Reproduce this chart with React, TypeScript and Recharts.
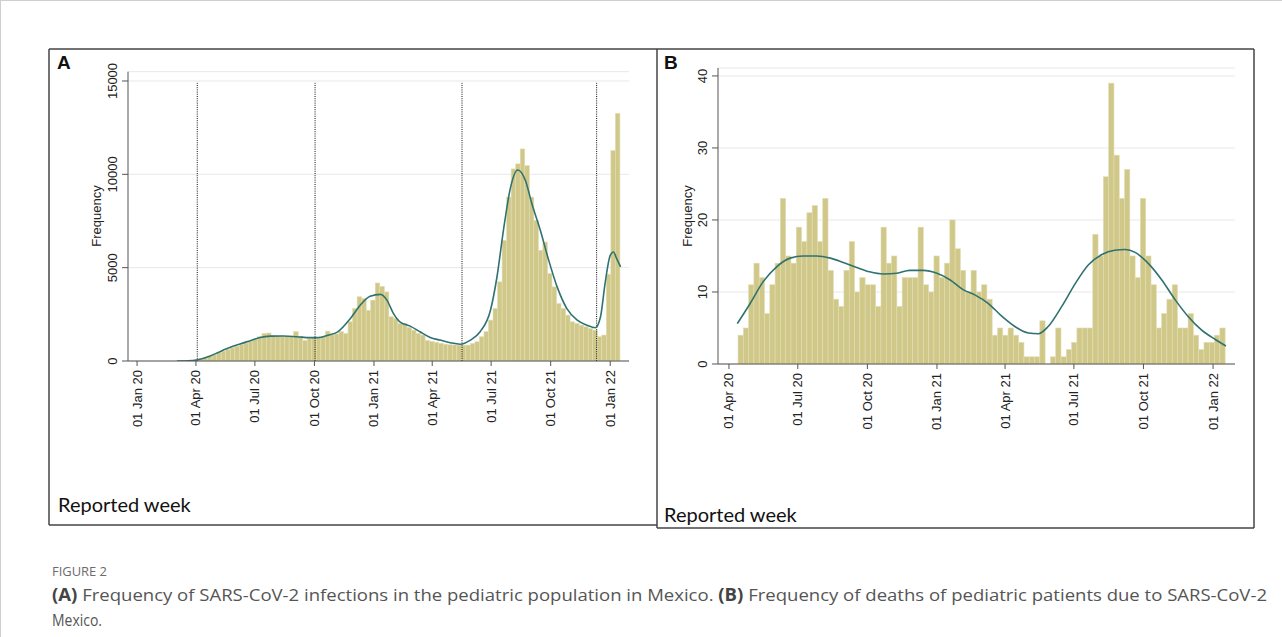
import React from 'react';
import { ComposedChart, Bar, Line, XAxis, YAxis, CartesianGrid, ReferenceLine } from 'recharts';

// days are counted from 01 Jan 2020
const weekStartA = 60;
const weekStartB = 103;

// Panel A: weekly SARS-CoV-2 infections, pediatric population
const casesA = [
  10, 20, 30, 50, 70, 120, 190, 260, 350, 440,
  530, 620, 720, 800, 880, 960, 1050, 1150, 1300, 1480,
  1500, 1350, 1320, 1300, 1300, 1320, 1570, 1300, 1100, 1200,
  1250, 1220, 1300, 1600, 1400, 1450, 1570, 1480, 2100, 2810,
  3440, 3350, 2720, 3260, 4180, 4000, 3700, 2370, 2280, 2000,
  2010, 1800, 1650, 1480, 1390, 1100, 1050, 1000, 950, 900,
  870, 860, 850, 850, 850, 940, 1030, 1300, 1570, 2190,
  2810, 4240, 6460, 8780, 10290, 10560, 11360, 10470, 8780, 7530,
  5930, 6370, 4680, 3970, 3080, 2810, 2460, 2100, 2010, 1920,
  1830, 1740, 1650, 1300, 1390, 4650, 11270, 13260,
];

// smoothed curve: [day, frequency]
const fitA: [number, number][] = [
  [62, 0], [80, 15], [94, 70], [113, 270], [128, 500], [144, 730], [159, 910],
  [175, 1090], [190, 1260], [206, 1330], [226, 1340], [247, 1300], [267, 1250],
  [280, 1250], [295, 1380], [310, 1560], [329, 2250], [345, 3000], [360, 3470],
  [376, 3570], [386, 3260], [396, 2550], [406, 2100], [422, 1870], [437, 1570],
  [453, 1260], [468, 1120], [484, 980], [499, 900], [515, 1120], [530, 1570],
  [546, 2720], [556, 4500], [566, 7000], [577, 9300], [588, 10230], [600, 9670],
  [610, 8420], [623, 7000], [636, 5390], [649, 3970], [664, 2810], [680, 2190],
  [695, 1920], [708, 1780], [716, 2370], [723, 4150], [731, 5660], [736, 5840],
  [741, 5480], [747, 5040],
];

// dotted period limits in panel A
const cutDaysA = [93, 275, 502, 710];

// Panel B: weekly deaths, pediatric patients
const deathsB = [
  4, 5, 11, 14, 12, 7, 11, 14, 23, 15,
  14, 19, 17, 21, 22, 17, 23, 13, 9, 8,
  13, 17, 10, 12, 11, 11, 8, 19, 14, 15,
  8, 12, 12, 12, 19, 11, 10, 15, 12, 14,
  20, 16, 13, 10, 13, 10, 11, 9, 4, 5,
  4, 5, 4, 3, 1, 1, 1, 6, 0, 1,
  5, 1, 2, 3, 5, 5, 5, 18, 15, 26,
  39, 29, 23, 27, 15, 12, 23, 15, 11, 5,
  7, 9, 11, 5, 5, 7, 4, 2, 3, 3,
  4, 5,
];

const fitB: [number, number][] = [
  [102, 5.6], [119, 8.4], [136, 11.4], [154, 13.5], [172, 14.7], [189, 15.0],
  [207, 15.0], [225, 14.7], [242, 14.1], [260, 13.4], [277, 12.8], [295, 12.5],
  [313, 12.6], [330, 13.0], [348, 13.0], [366, 12.6], [383, 11.7], [401, 10.3],
  [416, 9.6], [434, 8.4], [452, 6.6], [469, 5.2], [487, 4.3], [500, 4.2],
  [513, 5.2], [531, 8.0], [549, 11.2], [566, 13.75], [584, 15.2], [601, 15.8],
  [615, 15.9], [628, 15.5], [645, 14.0], [663, 11.7], [681, 8.9], [698, 6.6],
  [716, 4.7], [734, 3.4], [748, 2.5],
];

const tickDays = [0, 91, 182, 274, 366, 456, 547, 639, 731];
const tickLabels = ['01 Jan 20', '01 Apr 20', '01 Jul 20', '01 Oct 20', '01 Jan 21', '01 Apr 21', '01 Jul 21', '01 Oct 21', '01 Jan 22'];
const tickDaysB = tickDays.slice(1);
const yTicksA = [0, 5000, 10000, 15000];
const yTicksB = [0, 10, 20, 30, 40];

const dataA = casesA.map((v, i) => ({ day: weekStartA + 7 * i + 3.5, count: v }));
const lineA = fitA.map(([day, v]) => ({ day, fit: v }));
const dataB = deathsB.map((v, i) => ({ day: weekStartB + 7 * i + 3.5, count: v }));
const lineB = fitB.map(([day, v]) => ({ day, fit: v }));

const labelOf: Record<number, string> = {};
tickDays.forEach((d, i) => (labelOf[d] = tickLabels[i]));

const FONT = '"Liberation Sans", Arial, sans-serif';
const BAR = '#d0c888';
const BAR_EDGE = '#e2ddb4';
const FIT = '#2f7270';
const AXIS = '#555';

const XTick = ({ x, y, payload }: any) => {
  const bx = x + 4.5;
  const by = y + 2;
  return (
    <text x={bx} y={by} transform={`rotate(-90 ${bx} ${by})`} textAnchor="end" fontSize={13} fill="#222" fontFamily={FONT}>
      {labelOf[payload.value]}
    </text>
  );
};

const YTick = ({ x, y, payload }: any) => {
  const bx = x - 3;
  return (
    <text x={bx} y={y} transform={`rotate(-90 ${bx} ${y})`} textAnchor="middle" fontSize={13} fill="#222" fontFamily={FONT}>
      {payload.value}
    </text>
  );
};

// one week wide histogram bar, centred on the band recharts gives
const weekBar = (w: number) => (p: any) => {
  if (!p.height || p.height <= 0) return <g />;
  const cx = p.x + p.width / 2;
  return <rect x={cx - w / 2} y={p.y} width={w} height={p.height} fill={BAR} stroke={BAR_EDGE} strokeWidth={0.6} />;
};

function PanelA() {
  return (
    <div style={{ position: 'absolute', left: 49, top: 49 }}>
      <ComposedChart width={608} height={476} data={dataA} margin={{ top: 22.7, right: 28, bottom: 94, left: 19 }}>
        <CartesianGrid vertical={false} stroke="#e8e8e8" />
        <XAxis
          type="number"
          dataKey="day"
          domain={[-14, 760]}
          ticks={tickDays}
          allowDataOverflow
          height={70}
          tick={XTick}
          tickSize={5}
          stroke={AXIS}
          interval={0}
        />
        <YAxis
          domain={[0, 15498]}
          ticks={yTicksA}
          allowDataOverflow
          width={60}
          tick={YTick}
          tickSize={6}
          stroke={AXIS}
          interval={0}
        />
        <Bar dataKey="count" shape={weekBar(4.53)} barSize={2} isAnimationActive={false} />
        {cutDaysA.map((d) => (
          <ReferenceLine key={d} segment={[{ x: d, y: 0 }, { x: d, y: 14900 }]} stroke="#111" strokeDasharray="1 1.2" />
        ))}
        <Line data={lineA} dataKey="fit" type="monotone" stroke={FIT} strokeWidth={1.6} dot={false} activeDot={false} isAnimationActive={false} />
      </ComposedChart>
    </div>
  );
}

function PanelB() {
  return (
    <div style={{ position: 'absolute', left: 657, top: 49 }}>
      <ComposedChart width={597} height={479} data={dataB} margin={{ top: 19, right: 19, bottom: 94, left: 1 }}>
        <CartesianGrid vertical={false} stroke="#e8e8e8" />
        <XAxis
          type="number"
          dataKey="day"
          domain={[76.5, 760]}
          ticks={tickDaysB}
          allowDataOverflow
          height={70}
          tick={XTick}
          tickSize={5}
          stroke={AXIS}
          interval={0}
        />
        <YAxis
          domain={[0, 41.1]}
          ticks={yTicksB}
          allowDataOverflow
          width={60}
          tick={YTick}
          tickSize={6}
          stroke={AXIS}
          interval={0}
        />
        <Bar dataKey="count" shape={weekBar(5.29)} barSize={2} isAnimationActive={false} />
        <Line data={lineB} dataKey="fit" type="monotone" stroke={FIT} strokeWidth={1.6} dot={false} activeDot={false} isAnimationActive={false} />
      </ComposedChart>
    </div>
  );
}

export default function App() {
  return (
    <div style={{ position: 'absolute', left: 0, top: 0, width: 1282, height: 637, background: '#fff', overflow: 'hidden' }}>
      <PanelA />
      <PanelB />
      <svg width={1282} height={637} style={{ position: 'absolute', left: 0, top: 0, pointerEvents: 'none' }}>
        {/* outer card edge */}
        <line x1={0.5} y1={0} x2={0.5} y2={637} stroke="#cfcfcf" />
        <line x1={0} y1={0.5} x2={1282} y2={0.5} stroke="#cfcfcf" />
        {/* panel frames */}
        <g stroke="#444" strokeWidth={1.5}>
          <line x1={49} y1={49} x2={1254} y2={49} />
          <line x1={49} y1={49} x2={49} y2={525} />
          <line x1={657} y1={49} x2={657} y2={528} />
          <line x1={1254} y1={49} x2={1254} y2={528} />
          <line x1={49} y1={525} x2={657} y2={525} />
          <line x1={657} y1={528} x2={1254} y2={528} />
        </g>
        <text x={57} y={69} fontFamily={FONT} fontWeight={700} fontSize={19} fill="#111">A</text>
        <text x={664} y={69} fontFamily={FONT} fontWeight={700} fontSize={19} fill="#111">B</text>
        <text x={100.5} y={216} transform="rotate(-90 100.5 216)" textAnchor="middle" fontFamily={FONT} fontSize={13} fill="#222">Frequency</text>
        <text x={691.5} y={216} transform="rotate(-90 691.5 216)" textAnchor="middle" fontFamily={FONT} fontSize={13} fill="#222">Frequency</text>
        <text x={58} y={512} fontFamily="Lato, sans-serif" fontSize={20} fill="#111">Reported week</text>
        <text x={664} y={522} fontFamily="Lato, sans-serif" fontSize={20} fill="#111">Reported week</text>
        {/* caption */}
        <text x={52} y={576} fontFamily='"Open Sans", sans-serif' fontSize={13} fill="#6b6b6b" textLength={55} lengthAdjust="spacingAndGlyphs">FIGURE 2</text>
        <text x={52} y={601} fontFamily='"Open Sans", sans-serif' fontSize={17} fill="#555" textLength={1215} lengthAdjust="spacingAndGlyphs">
          <tspan fontWeight={700} fill="#444">(A)</tspan>
          <tspan> Frequency of SARS-CoV-2 infections in the pediatric population in Mexico. </tspan>
          <tspan fontWeight={700} fill="#444">(B)</tspan>
          <tspan> Frequency of deaths of pediatric patients due to SARS-CoV-2</tspan>
        </text>
        <text x={52} y={626} fontFamily='"Open Sans", sans-serif' fontSize={17} fill="#555" textLength={50} lengthAdjust="spacingAndGlyphs">Mexico.</text>
      </svg>
    </div>
  );
}
